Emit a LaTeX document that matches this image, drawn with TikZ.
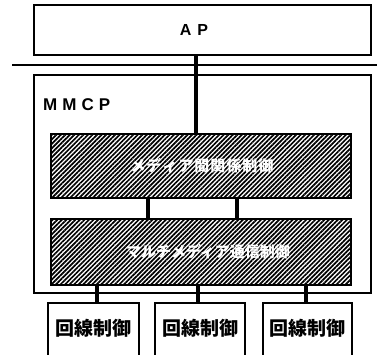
\documentclass[tikz,border=0pt]{standalone}
\usepackage{fontspec}
\setmainfont{Liberation Sans}
\newfontfamily\jp{Noto Sans CJK JP}
\usetikzlibrary{patterns.meta}
\begin{document}
\begin{tikzpicture}[x=1pt,y=-1pt,
  box/.style={draw=black,line width=1.4pt,fill=white,inner sep=0pt,outer sep=0pt,rectangle},
  hatchbox/.style={draw=black,line width=1.6pt,inner sep=0pt,outer sep=0pt,rectangle,
     pattern={Lines[angle=45,distance=3.2pt,line width=1.7pt]},minimum width=300pt},
  conn/.style={line width=4pt},
  thin/.style={line width=1.2pt},
  lbl/.style={font=\bfseries\fontsize{16}{16}\selectfont,inner sep=0pt},
  hlbl/.style={text=white,font=\jp\bfseries\fontsize{15}{15}\selectfont,inner sep=0pt},
  llbl/.style={font=\jp\bfseries\fontsize{19}{19}\selectfont,inner sep=0pt}
]
\useasboundingbox (0,0) rectangle (377,354);
\clip (0,0) rectangle (377,354);
\fill[white] (0,0) rectangle (377,354);
% separator
\coordinate (s1) at (12,65);
\coordinate (s2) at (377,65);
\draw[thin] (s1) -- (s2);
% AP
\node[box,minimum width=337pt,minimum height=50pt] (ap) at (202.5,30) {};
\node[lbl] (aptxt) at (194,30) {A\hspace{6pt}P};
% MMCP
\node[lbl,font=\bfseries\fontsize{17}{17}\selectfont,anchor=west] (mmcptxt) at (43,105) {M\hspace{5pt}M\hspace{5pt}C\hspace{5pt}P};
\node[box,minimum width=337pt,minimum height=218pt,fill=none] (mmcp) at (202.5,184) {};
% hatched boxes
\node[hatchbox,minimum height=64pt] (h1) at (201,166) {};
\node[hatchbox,minimum height=66pt] (h2) at (201,252) {};
\node[hlbl] (h1txt) at (202,166) {メ\hspace{1pt}デ\hspace{1pt}ィ\hspace{1pt}ア\hspace{1pt}間\hspace{1pt}関\hspace{1pt}係\hspace{1pt}制\hspace{1pt}御};
\node[hlbl] (h2txt) at (208,252) {マルチメディア通信制御};
% line control boxes
\node[box,minimum width=91pt,minimum height=60pt,anchor=north] (l1) at (93.5,303) {};
\node[box,minimum width=90pt,minimum height=60pt,anchor=north] (l2) at (200,303) {};
\node[box,minimum width=89pt,minimum height=60pt,anchor=north] (l3) at (307.5,303) {};
\node[llbl] (t1) at (93.5,328) {回線制御};
\node[llbl] (t2) at (200,328) {回線制御};
\node[llbl] (t3) at (307.5,328) {回線制御};
% connectors
\coordinate (c0) at (196,0);
\coordinate (c1) at (148,0);
\coordinate (c2) at (237,0);
\coordinate (d1) at (97,0);
\coordinate (d2) at (198,0);
\coordinate (d3) at (306,0);
\draw[conn] (c0 |- ap.south) -- (c0 |- h1.north);
\draw[conn] (c1 |- h1.south) -- (c1 |- h2.north);
\draw[conn] (c2 |- h1.south) -- (c2 |- h2.north);
\draw[conn] (d1 |- h2.south) -- (d1 |- l1.north);
\draw[conn] (d2 |- h2.south) -- (d2 |- l2.north);
\draw[conn] (d3 |- h2.south) -- (d3 |- l3.north);
\end{tikzpicture}
\end{document}
